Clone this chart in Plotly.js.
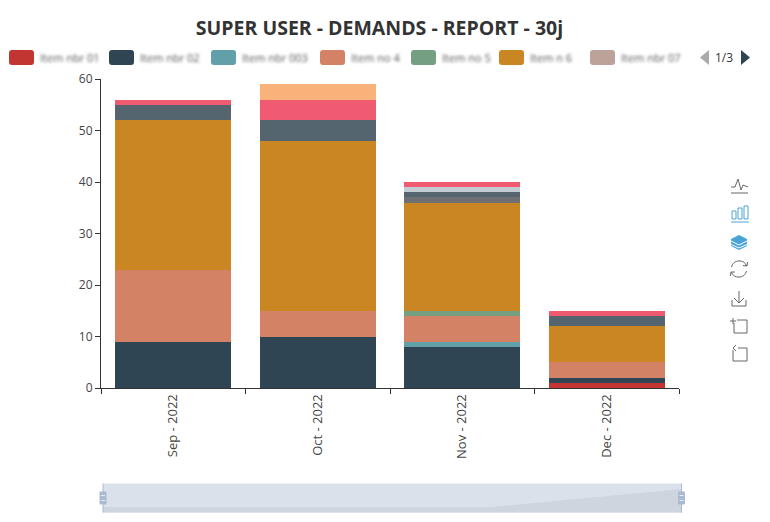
<!DOCTYPE html>
<html>
<head>
<meta charset="utf-8">
<script src="https://cdn.plot.ly/plotly-3.0.1.min.js"></script>
<style>
html,body{margin:0;padding:0;background:#fff}
#chart{width:770px;height:522px}
</style>
</head>
<body>
<div id="chart"></div>
<script>
const months = ['Sep - 2022','Oct - 2022','Nov - 2022','Dec - 2022'];
const seriesNames = ['Item nbr 01','Item nbr 02','Item nbr 003','Item no 4','Item no 5','Item n 6','Item nbr 07','Item nbr 08','Item nbr 09','Item nbr 10','Item nbr 11','Item nbr 12'];
const seriesColors = ['#c23531','#2f4554','#61a0a8','#d48265','#749f83','#ca8622','#bda29a','#6e7074','#546570','#c4ccd3','#f05b72','#fab27b'];
const red    = [0,0,0,1];
const navy   = [9,10,8,1];
const teal   = [0,0,1,0];
const salmon = [14,5,5,3];
const green  = [0,0,1,0];
const amber  = [29,33,21,7];
const taupe  = [0,0,0,0];
const grey   = [0,0,1,0];
const slate  = [3,4,1,2];
const light  = [0,0,1,0];
const pink   = [1,4,1,1];
const peach  = [0,3,0,0];
const seriesValues = [red,navy,teal,salmon,green,amber,taupe,grey,slate,light,pink,peach];
const yTicks = [0,10,20,30,40,50,60];
const pageLabel = '1/3';
const titleText = 'SUPER USER - DEMANDS - REPORT - 30j';

const W=770,H=522,L=101,R=679,T=79,B=388;
const px=x=>(x-L)/(R-L), py=y=>(B-y)/(B-T);
const P=(x,y)=>px(x)+','+py(y);
function pathShape(d,opt){
  const s=d.map(c=>{
    let o=c[0];const pts=[];
    for(let i=1;i<c.length;i+=2)pts.push(P(c[i],c[i+1]));
    return o+pts.join(' ');
  }).join(' ');
  return Object.assign({type:'path',xref:'paper',yref:'paper',path:s,layer:'above',line:{width:0}},opt);
}
function roundRect(x,y,w,h,r){
  return [['M',x+r,y],['L',x+w-r,y],['Q',x+w,y,x+w,y+r],['L',x+w,y+h-r],['Q',x+w,y+h,x+w-r,y+h],['L',x+r,y+h],['Q',x,y+h,x,y+h-r],['L',x,y+r],['Q',x,y,x+r,y],['Z']];
}
const shapes=[],annotations=[];
// legend
const legendX=[9,109,211,320,411,499,590];
const labelX=[38,138,240,349,440,528,619];
legendX.forEach((x,i)=>{
  shapes.push(pathShape(roundRect(x,50,25,15,3),{fillcolor:seriesColors[i]}));
  annotations.push({xref:'paper',yref:'paper',x:px(labelX[i]),y:py(57.5),xanchor:'left',yanchor:'middle',showarrow:false,
    text:seriesNames[i],font:{family:'Open Sans',size:11,color:'#555'}});
});
// pager
shapes.push(pathShape([['M',709,50],['L',709,65],['L',700,57.5],['Z']],{fillcolor:'#aaaaaa'}));
shapes.push(pathShape([['M',741,50],['L',741,65],['L',750,57.5],['Z']],{fillcolor:'#2f4554'}));
annotations.push({xref:'paper',yref:'paper',x:px(724),y:py(57.5),xanchor:'center',yanchor:'middle',showarrow:false,text:pageLabel,font:{family:'Open Sans',size:12,color:'#333'}});
// data zoom
const Z0=103,Z1=681.5,ZT=483.5,ZB=512.5;
shapes.push(pathShape([['M',Z0,ZT],['L',Z1,ZT],['L',Z1,ZB],['L',Z0,ZB],['Z']],{fillcolor:'#dbe1ea',layer:'below'}));
shapes.push(pathShape([['M',Z0,507],['L',491,507],['L',Z1,489],['L',Z1,ZB],['L',Z0,ZB],['Z']],{fillcolor:'#ced5df'}));
[Z0,Z1].forEach(x=>{
  shapes.push(pathShape([['M',x,ZT],['L',x,ZB]],{line:{color:'#a9bbd2',width:1}}));
  shapes.push(pathShape(roundRect(x-3.5,491.5,7,13,1),{fillcolor:'#a9bbd2'}));
  shapes.push(pathShape([['M',x-2,495.5],['L',x+2,495.5]],{line:{color:'#e6ebf2',width:1}}));
  shapes.push(pathShape([['M',x-2,500.5],['L',x+2,500.5]],{line:{color:'#e6ebf2',width:1}}));
});
// toolbox
const ic='#666', ib='#4aa3d6';
const ln=(d,c)=>pathShape(d,{line:{color:c,width:1}});
shapes.push(ln([['M',731,187],['L',735,187],['L',738,179],['L',741,190],['L',743,185],['L',748,187]],ic));
shapes.push(ln([['M',731,193],['L',748,193]],ic));
shapes.push(ln([['M',732,211],['L',736,211],['L',736,219],['L',732,219],['Z']],ib));
shapes.push(ln([['M',738,208],['L',742,208],['L',742,219],['L',738,219],['Z']],ib));
shapes.push(ln([['M',744,206],['L',748,206],['L',748,219],['L',744,219],['Z']],ib));
shapes.push(ln([['M',731,222],['L',749,222]],ib));
shapes.push(pathShape([['M',739,235],['L',747,239],['L',747,246],['L',739,250],['L',731,246],['L',731,239],['Z']],{fillcolor:ib}));
shapes.push(ln([['M',731,241],['L',739,245],['L',747,241]],'#ffffff'));
shapes.push(ln([['M',731,244.5],['L',739,248],['L',747,244.5]],'#ffffff'));
shapes.push(ln([['M',731.5,267],['C',733,259,745,259,746.5,266]],ic));
shapes.push(ln([['M',746.5,271],['C',745,279,733,279,731.5,272]],ic));
shapes.push(ln([['M',743,265.5],['L',747,266],['L',747.5,262]],ic));
shapes.push(ln([['M',735,272],['L',731,272],['L',730.5,276]],ic));
shapes.push(ln([['M',739,291],['L',739,303],['M',734,298],['L',739,303],['L',744,298]],ic));
shapes.push(ln([['M',732,300],['L',732,306],['L',746,306],['L',746,300]],ic));
shapes.push(ln([['M',737,320],['L',747,320],['L',747,333],['L',734,333],['L',734,323]],ic));
shapes.push(ln([['M',733,318],['L',733,324],['M',730,321],['L',736,321]],ic));
shapes.push(ln([['M',738,348],['L',747,348],['L',747,361],['L',733,361],['L',733,350]],ic));
shapes.push(ln([['M',736,345],['L',733,348],['L',736,351]],ic));

const traces=seriesValues.map((v,i)=>({
  type:'bar',name:seriesNames[i],x:months,y:v,
  marker:{color:seriesColors[i],line:{width:0}},
  hoverinfo:'x+y+name'
}));
const layout={
  width:W,height:H,autosize:false,
  margin:{l:L,r:W-R,t:T,b:H-B,pad:0},
  paper_bgcolor:'#fff',plot_bgcolor:'#fff',
  barmode:'stack',bargap:0.2,showlegend:false,
  font:{family:'Open Sans',size:12,color:'#333'},
  title:{text:'<b>'+titleText+'</b>',x:379.5/W,xanchor:'center',y:1-28/H,yanchor:'middle',font:{family:'Open Sans',size:19.5,color:'#333'}},
  xaxis:{type:'category',categoryorder:'array',categoryarray:months,tickson:'boundaries',ticks:'outside',ticklen:5,tickcolor:'#333',tickwidth:1,
    showline:true,linecolor:'#333',linewidth:1,showgrid:false,zeroline:false,tickangle:-90,tickfont:{family:'Open Sans',size:13,color:'#444'},fixedrange:true},
  yaxis:{range:[0,60],tickvals:yTicks,ticks:'outside',ticklen:5,tickcolor:'#333',tickwidth:1,showline:true,linecolor:'#333',linewidth:1,showgrid:false,zeroline:false,
    tickfont:{family:'Open Sans',size:12,color:'#444'},fixedrange:true},
  shapes:shapes,annotations:annotations
};
Plotly.newPlot('chart',traces,layout,{displayModeBar:false,responsive:false}).then(gd=>{
  gd.querySelectorAll('.annotation').forEach(a=>{ if(a.textContent!==pageLabel) a.style.filter='blur(1.6px)'; });
});
</script>
</body>
</html>
